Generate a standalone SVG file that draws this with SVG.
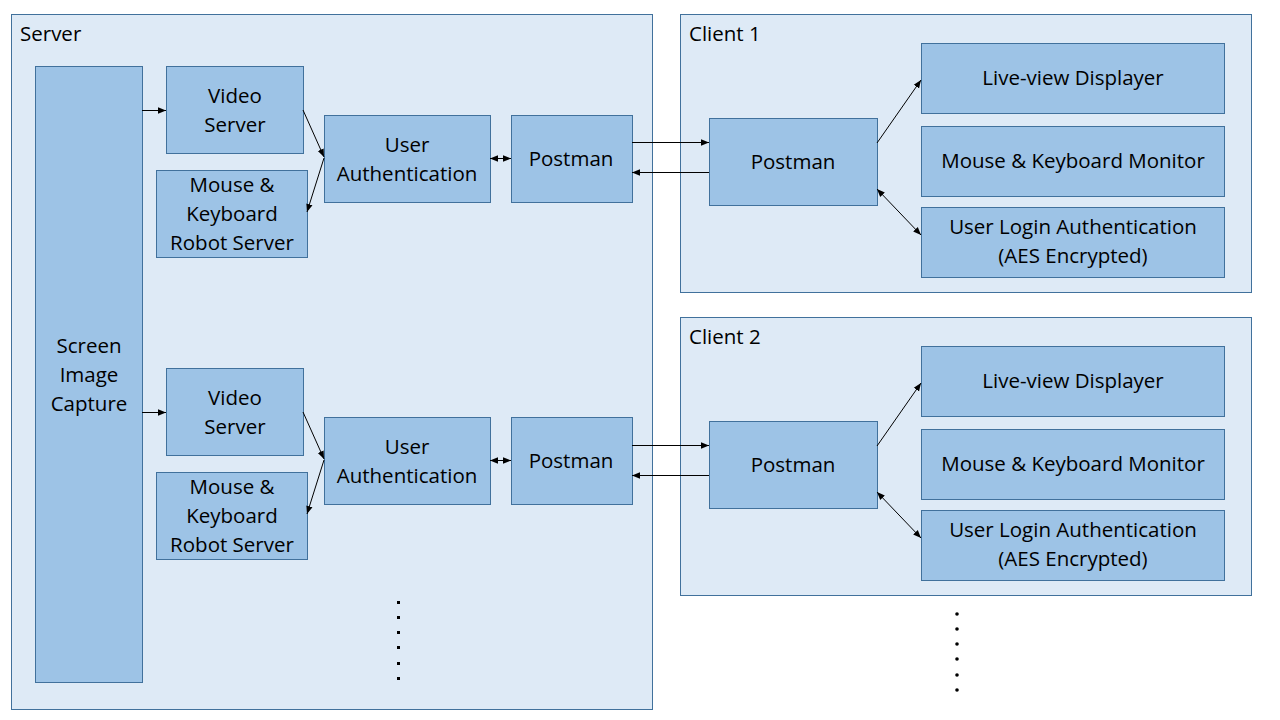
<svg xmlns="http://www.w3.org/2000/svg" width="1280" height="720" viewBox="0 0 1280 720">
<defs>
<style>
.cont{fill:#deeaf6;stroke:#41719c;stroke-width:1}
.box{fill:#9dc3e6;stroke:#41719c;stroke-width:1}
text{font-family:"Open Sans","Liberation Sans",sans-serif;font-size:20.5px;fill:#000}
.c{text-anchor:middle}
.ln{stroke:#000;stroke-width:1;fill:none}
.dot{fill:#000}
</style>
<marker id="ah" viewBox="0 0 10 10" refX="10" refY="5" markerWidth="8" markerHeight="8" orient="auto-start-reverse" markerUnits="userSpaceOnUse">
<path d="M0,1 L10,5 L0,9 z" fill="#000"/>
</marker>
</defs>
<rect width="1280" height="720" fill="#fff"/>
<g id="server">
<rect class="cont" x="11.5" y="14.5" width="641" height="695"/>
<text x="20" y="41">Server</text>
</g>
<g id="client1">
<rect class="cont" x="680.5" y="14.5" width="571" height="278"/>
<text x="689" y="41">Client 1</text>
</g>
<g id="client2">
<rect class="cont" x="680.5" y="317.5" width="571" height="278"/>
<text x="689" y="344">Client 2</text>
</g>
<g id="screen-capture">
<rect class="box" x="35.5" y="66.5" width="107" height="616"/>
<text class="c" x="89" y="353">Screen</text>
<text class="c" x="89" y="382">Image</text>
<text class="c" x="89" y="411">Capture</text>
</g>
<g id="video-server-1">
<rect class="box" x="166.5" y="66.5" width="137" height="87"/>
<text class="c" x="235" y="103">Video</text>
<text class="c" x="235" y="132">Server</text>
</g>
<g id="robot-server-1">
<rect class="box" x="156.5" y="170.5" width="151" height="87"/>
<text class="c" x="232" y="192">Mouse &amp;</text>
<text class="c" x="232" y="221">Keyboard</text>
<text class="c" x="232" y="250">Robot Server</text>
</g>
<g id="user-auth-1">
<rect class="box" x="324.5" y="115.5" width="166" height="87"/>
<text class="c" x="407" y="152">User</text>
<text class="c" x="407" y="181">Authentication</text>
</g>
<g id="postman-s1">
<rect class="box" x="511.5" y="115.5" width="121" height="87"/>
<text class="c" x="571" y="166">Postman</text>
</g>
<g id="video-server-2">
<rect class="box" x="166.5" y="368.5" width="137" height="87"/>
<text class="c" x="235" y="405">Video</text>
<text class="c" x="235" y="434">Server</text>
</g>
<g id="robot-server-2">
<rect class="box" x="156.5" y="472.5" width="151" height="87"/>
<text class="c" x="232" y="494">Mouse &amp;</text>
<text class="c" x="232" y="523">Keyboard</text>
<text class="c" x="232" y="552">Robot Server</text>
</g>
<g id="user-auth-2">
<rect class="box" x="324.5" y="417.5" width="166" height="87"/>
<text class="c" x="407" y="454">User</text>
<text class="c" x="407" y="483">Authentication</text>
</g>
<g id="postman-s2">
<rect class="box" x="511.5" y="417.5" width="121" height="87"/>
<text class="c" x="571" y="468">Postman</text>
</g>
<g id="postman-c1">
<rect class="box" x="709.5" y="118.5" width="168" height="87"/>
<text class="c" x="793" y="169">Postman</text>
</g>
<g id="liveview-1">
<rect class="box" x="921.5" y="43.5" width="303" height="70"/>
<text class="c" x="1073" y="85">Live-view Displayer</text>
</g>
<g id="monitor-1">
<rect class="box" x="921.5" y="126.5" width="303" height="70"/>
<text class="c" x="1073" y="168">Mouse &amp; Keyboard Monitor</text>
</g>
<g id="login-1">
<rect class="box" x="921.5" y="207.5" width="303" height="70"/>
<text class="c" x="1073" y="234">User Login Authentication</text>
<text class="c" x="1073" y="263">(AES Encrypted)</text>
</g>
<g id="postman-c2">
<rect class="box" x="709.5" y="421.5" width="168" height="87"/>
<text class="c" x="793" y="472">Postman</text>
</g>
<g id="liveview-2">
<rect class="box" x="921.5" y="346.5" width="303" height="70"/>
<text class="c" x="1073" y="388">Live-view Displayer</text>
</g>
<g id="monitor-2">
<rect class="box" x="921.5" y="429.5" width="303" height="70"/>
<text class="c" x="1073" y="471">Mouse &amp; Keyboard Monitor</text>
</g>
<g id="login-2">
<rect class="box" x="921.5" y="510.5" width="303" height="70"/>
<text class="c" x="1073" y="537">User Login Authentication</text>
<text class="c" x="1073" y="566">(AES Encrypted)</text>
</g>
<g id="connectors">
<line class="ln" x1="142" y1="110.5" x2="166" y2="110.5" marker-end="url(#ah)"/>
<line class="ln" x1="303" y1="110" x2="324" y2="157" marker-end="url(#ah)"/>
<line class="ln" x1="324" y1="158" x2="307" y2="212" marker-end="url(#ah)"/>
<line class="ln" x1="490" y1="158.5" x2="511" y2="158.5" marker-start="url(#ah)" marker-end="url(#ah)"/>
<line class="ln" x1="632" y1="142.5" x2="709" y2="142.5" marker-end="url(#ah)"/>
<line class="ln" x1="709" y1="172.5" x2="632" y2="172.5" marker-end="url(#ah)"/>
<line class="ln" x1="877" y1="143" x2="921" y2="80" marker-end="url(#ah)"/>
<line class="ln" x1="877" y1="189" x2="921" y2="235" marker-start="url(#ah)" marker-end="url(#ah)"/>
<line class="ln" x1="142" y1="412.5" x2="166" y2="412.5" marker-end="url(#ah)"/>
<line class="ln" x1="303" y1="412" x2="324" y2="459" marker-end="url(#ah)"/>
<line class="ln" x1="324" y1="460" x2="307" y2="514" marker-end="url(#ah)"/>
<line class="ln" x1="490" y1="460.5" x2="511" y2="460.5" marker-start="url(#ah)" marker-end="url(#ah)"/>
<line class="ln" x1="632" y1="445.5" x2="709" y2="445.5" marker-end="url(#ah)"/>
<line class="ln" x1="709" y1="475.5" x2="632" y2="475.5" marker-end="url(#ah)"/>
<line class="ln" x1="877" y1="446" x2="921" y2="383" marker-end="url(#ah)"/>
<line class="ln" x1="877" y1="492" x2="921" y2="538" marker-start="url(#ah)" marker-end="url(#ah)"/>
</g>
<g id="dots-server">
<rect class="dot" x="397" y="601" width="3" height="3"/>
<rect class="dot" x="397" y="616" width="3" height="3"/>
<rect class="dot" x="397" y="631" width="3" height="3"/>
<rect class="dot" x="397" y="646" width="3" height="3"/>
<rect class="dot" x="397" y="662" width="3" height="3"/>
<rect class="dot" x="397" y="677" width="3" height="3"/>
</g>
<g id="dots-client">
<circle class="dot" cx="957" cy="614" r="1.8"/>
<circle class="dot" cx="957" cy="629" r="1.8"/>
<circle class="dot" cx="957" cy="644" r="1.8"/>
<circle class="dot" cx="957" cy="659" r="1.8"/>
<circle class="dot" cx="957" cy="675" r="1.8"/>
<circle class="dot" cx="957" cy="690" r="1.8"/>
</g>
</svg>
